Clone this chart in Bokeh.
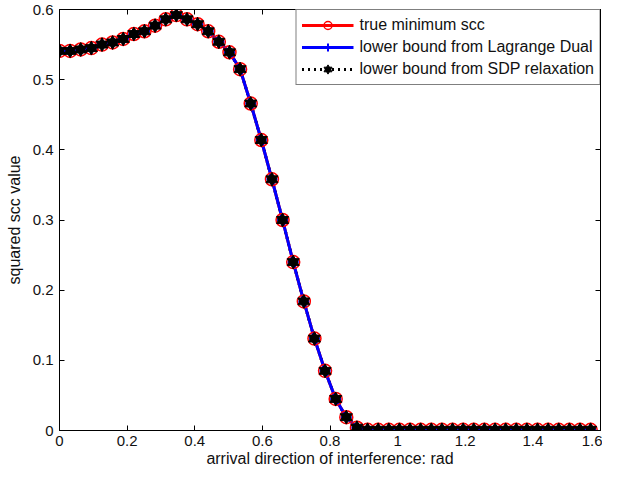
from bokeh.plotting import figure
from bokeh.models import (ColumnDataSource, Range1d, FixedTicker, LinearAxis, Legend, LegendItem)
from bokeh.embed import file_html
from bokeh.resources import INLINE

# arrival direction (rad)
angle = [0.0000, 0.0314, 0.0628, 0.0942, 0.1257, 0.1571, 0.1885, 0.2199, 0.2513, 0.2827,
         0.3142, 0.3456, 0.3770, 0.4084, 0.4398, 0.4712, 0.5027, 0.5341, 0.5655, 0.5969,
         0.6283, 0.6597, 0.6912, 0.7226, 0.7540, 0.7854, 0.8168, 0.8482, 0.8796, 0.9111,
         0.9425, 0.9739, 1.0053, 1.0367, 1.0681, 1.0996, 1.1310, 1.1624, 1.1938, 1.2252,
         1.2566, 1.2881, 1.3195, 1.3509, 1.3823, 1.4137, 1.4451, 1.4765, 1.5080, 1.5394,
         1.5708]

true_min_scc = [0.541, 0.541, 0.543, 0.545, 0.550, 0.553, 0.558, 0.565, 0.569, 0.577,
                0.586, 0.592, 0.586, 0.579, 0.569, 0.554, 0.539, 0.515, 0.466, 0.414,
                0.358, 0.300, 0.240, 0.184, 0.131, 0.085, 0.045, 0.019, 0.004, 0.001,
                0.001, 0.001, 0.001, 0.001, 0.001, 0.001, 0.001, 0.001, 0.001, 0.001,
                0.001, 0.001, 0.001, 0.001, 0.001, 0.001, 0.001, 0.001, 0.001, 0.001,
                0.001]
lagrange_bound = list(true_min_scc)
sdp_bound = list(true_min_scc)

x_ticks = [0, 0.2, 0.4, 0.6, 0.8, 1.0, 1.2, 1.4, 1.6]
x_tick_labels = ["0", "0.2", "0.4", "0.6", "0.8", "1", "1.2", "1.4", "1.6"]
y_ticks = [0, 0.1, 0.2, 0.3, 0.4, 0.5, 0.6]
y_tick_labels = ["0", "0.1", "0.2", "0.3", "0.4", "0.5", "0.6"]

legend_labels = ["true minimum scc", "lower bound from Lagrange Dual",
                 "lower bound from SDP relaxation"]

FONT = "Liberation Sans"

src = ColumnDataSource(dict(x=angle, t=true_min_scc, l=lagrange_bound, s=sdp_bound))

p = figure(width=602, height=470, output_backend="svg", toolbar_location=None,
           x_range=Range1d(0, 1.6), y_range=Range1d(0, 0.6),
           min_border_left=59, min_border_right=2, min_border_top=9, min_border_bottom=40)
p.grid.visible = False
p.outline_line_color = "black"
p.outline_line_width = 1
p.background_fill_color = "white"
p.border_fill_color = "white"

xt = FixedTicker(ticks=x_ticks)
yt = FixedTicker(ticks=y_ticks)

def style_axis(ax, ticker, labels, show):
    ax.ticker = ticker
    ax.major_tick_in = 5
    ax.major_tick_out = 0
    ax.minor_tick_line_color = None
    ax.axis_line_color = "black"
    ax.major_tick_line_color = "black"
    ax.major_label_text_font = FONT
    ax.major_label_text_color = "#111111"
    if show:
        ax.major_label_overrides = {t: lab for t, lab in zip(ticker.ticks, labels)}
        ax.major_label_text_font_size = "15px"
    else:
        ax.major_label_text_color = None
        ax.major_label_standoff = 0

style_axis(p.xaxis[0], xt, x_tick_labels, True)
style_axis(p.yaxis[0], yt, y_tick_labels, True)
p.xaxis[0].major_label_standoff = 5
p.yaxis[0].major_label_standoff = 6
p.xaxis[0].axis_label = "arrival direction of interference: rad"
p.yaxis[0].axis_label = "squared scc value"
for ax in (p.xaxis[0], p.yaxis[0]):
    ax.axis_label_text_font = FONT
    ax.axis_label_text_font_size = "16px"
    ax.axis_label_text_font_style = "normal"
    ax.axis_label_text_color = "#111111"
p.xaxis[0].axis_label_standoff = 1
p.yaxis[0].axis_label_standoff = 7

top_ax = LinearAxis()
style_axis(top_ax, xt, x_tick_labels, False)
p.add_layout(top_ax, "above")
right_ax = LinearAxis()
style_axis(right_ax, yt, y_tick_labels, False)
p.add_layout(right_ax, "right")

# lines
r_red = p.line("x", "t", source=src, line_color="#ff0000", line_width=3)
r_blk = p.line("x", "s", source=src, line_color="black", line_width=3, line_dash="2 4")
r_blue = p.line("x", "l", source=src, line_color="#0000ff", line_width=3)
# markers
m_red = p.scatter("x", "t", source=src, marker="circle", size=13, fill_color=None,
                  line_color="#ff0000", line_width=1.5)
m_blue = p.scatter("x", "l", source=src, marker="cross", size=11, line_color="#0000ff",
                   line_width=2)
m_up = p.scatter("x", "s", source=src, marker="triangle", size=12, fill_color="black",
                 line_color="black", line_width=1)
m_dn = p.scatter("x", "s", source=src, marker="inverted_triangle", size=12,
                 fill_color="black", line_color="black", line_width=1)

legend = Legend(items=[
    LegendItem(label=legend_labels[0], renderers=[r_red, m_red]),
    LegendItem(label=legend_labels[1], renderers=[r_blue, m_blue]),
    LegendItem(label=legend_labels[2], renderers=[r_blk, m_up, m_dn]),
], location="top_right")
legend.label_text_font = FONT
legend.label_text_font_size = "16px"
legend.label_text_color = "#111111"
legend.glyph_width = 52
legend.glyph_height = 20
legend.label_height = 20
legend.label_standoff = 6
legend.spacing = 2
legend.padding = 5
legend.margin = 0
legend.border_line_color = "black"
legend.border_line_width = 1
legend.background_fill_alpha = 1.0
p.add_layout(legend)

open("out.html", "w").write(file_html(p, INLINE))
